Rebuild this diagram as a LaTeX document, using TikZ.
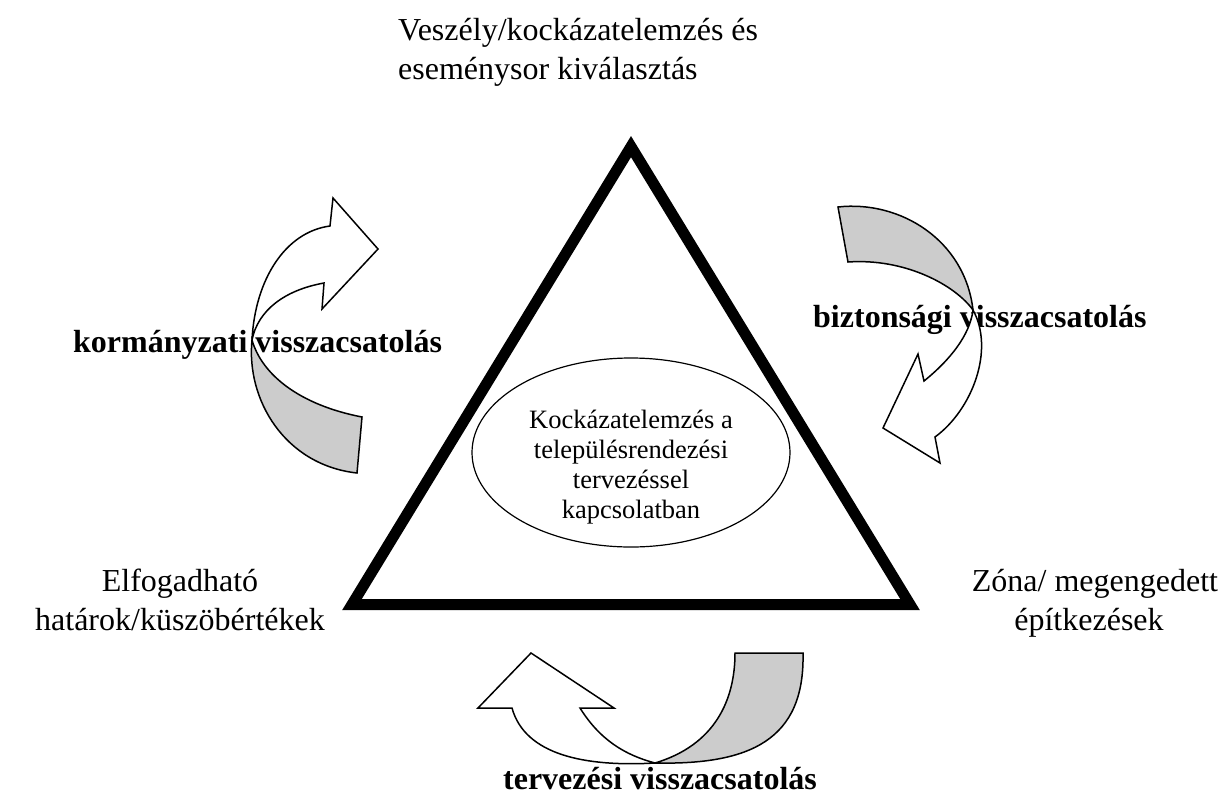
\documentclass[tikz,border=0pt]{standalone}
\usepackage{fontspec}
\setmainfont{Liberation Serif}
\usetikzlibrary{shapes.geometric}
\begin{document}
\begin{tikzpicture}[x=1pt,y=-1pt,
  band/.style={draw=black, line width=1.5pt, line join=miter},
  backside/.style={band, fill=black!20},
  frontside/.style={band, fill=white},
  plain/.style={font=\fontsize{32}{37}\selectfont, inner sep=0pt},
  looplabel/.style={font=\fontsize{32}{37}\selectfont\bfseries, inner sep=0pt},
  coretext/.style={font=\fontsize{26.5}{30}\selectfont, inner sep=0pt, anchor=base},
]
\useasboundingbox (0,0) rectangle (1219,796);

% thick triangle
\coordinate (apex) at (631,146.6);
\coordinate (bl) at (352,604.5);
\coordinate (br) at (910,604.5);
\draw[line width=11pt, line join=miter] (apex) -- (bl) -- (br) -- cycle;

% central ellipse
\node[draw, ellipse, line width=1.2pt, minimum width=318pt, minimum height=189pt, inner sep=0pt] (core) at (631,452.5) {};
\node[coretext] (core1) at (631,428) {Kockázatelemzés a};
\node[coretext] (core2) at (631,458) {településrendezési};
\node[coretext] (core3) at (631,488) {tervezéssel};
\node[coretext] (core4) at (631,518) {kapcsolatban};

% corner texts
\node[plain, anchor=base west] (top1) at (398,40) {Veszély/kockázatelemzés és};
\node[plain, anchor=base west] (top2) at (398,79) {eseménysor kiválasztás};
\node[plain, anchor=base] (left1) at (180,591) {Elfogadható};
\node[plain, anchor=base] (left2) at (180,630) {határok/küszöbértékek};
\node[plain, anchor=base] (right1) at (1095,591) {Zóna/ megengedett};
\node[plain, anchor=base] (right2) at (1089,630) {építkezések};

% left curved arrow (kormányzati)
\coordinate (P) at (252,340);
\draw[backside] (P) .. controls (246,400) and (285,465) .. (357,473)
  -- (362,417) .. controls (300,405) and (262,375) .. (P) -- cycle;
\draw[frontside] (P) .. controls (255,280) and (285,232) .. (330,226)
  -- (333,198) -- (378,249) -- (322,309) -- (324,283)
  .. controls (285,290) and (258,310) .. (P) -- cycle;
\node[looplabel, anchor=base west] (govlbl) at (73,352) {kormányzati visszacsatolás};

% right curved arrow (biztonsági)
\node[looplabel, anchor=base west] (safelbl) at (813,327) {biztonsági visszacsatolás};
\coordinate (Q) at (973,310);
\draw[backside] (838,207) .. controls (900,200) and (965,240) .. (Q)
  .. controls (955,285) and (905,258) .. (848,262) -- cycle;
\draw[frontside] (Q) .. controls (995,350) and (972,410) .. (935,437)
  -- (940,463) -- (883,428) -- (918,354) -- (924,381)
  .. controls (950,360) and (970,335) .. (Q) -- cycle;

% bottom curved arrow (tervezési)
\coordinate (R) at (655,763);
\draw[backside] (803,653) .. controls (805,740) and (750,765) .. (R)
  .. controls (715,745) and (735,700) .. (735,653) -- cycle;
\draw[frontside] (R) .. controls (585,767) and (525,755) .. (512,708)
  -- (478,708) -- (531,653) -- (614,708) -- (580,708)
  .. controls (600,740) and (625,755) .. (R) -- cycle;
\node[looplabel, anchor=base] (planlbl) at (660,789) {tervezési visszacsatolás};
\end{tikzpicture}
\end{document}
